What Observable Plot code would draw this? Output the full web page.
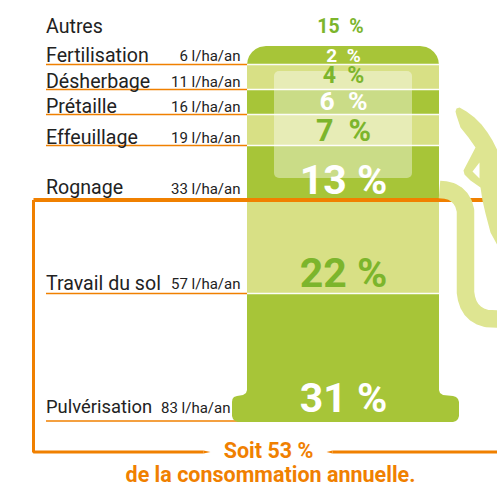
<!DOCTYPE html>
<html><head><meta charset="utf-8">
<script src="https://cdn.jsdelivr.net/npm/d3@7"></script>
<script src="https://cdn.jsdelivr.net/npm/@observablehq/plot@0.6"></script>
<style>html,body{margin:0;padding:0;background:#fff}svg{display:block}</style>
</head><body><div id="c"></div>
<script>
const W = 497, H = 484;
const DARK = "#a7c538", LIGHT = "#d8e085", HOSE = "#dee591", ORANGE = "#f08000", GREEN = "#7cb52c", INK = "#222";

// Chart values
const categories = ["Autres","Fertilisation","Désherbage","Prétaille","Effeuillage","Rognage","Travail du sol","Pulvérisation"];
const litres = ["","6 l/ha/an","11 l/ha/an","16 l/ha/an","19 l/ha/an","33 l/ha/an","57 l/ha/an","83 l/ha/an"];
const percents = ["15\u00a0\u00a0%","2\u00a0\u00a0%","4\u00a0\u00a0%","6\u00a0\u00a0%","7\u00a0\u00a0%","13 %","22 %","31 %"];

// Band edges on the picture's vertical axis
const bandTop = [46,65,90,115,146,199,294];
const bandBottom = [65,90,115,146,199,294,396];
const bandFill = [DARK,LIGHT,DARK,LIGHT,DARK,LIGHT,DARK];
const catY = [26,55,81,106,137,187,283,407];
const catSize = [19.6,19.6,19.6,19.6,19.6,19.6,19.6,18.4];
const amountY = [null,56,82,107,138,189,284,408];
const amountX = [null,240,240,240,240,240,240,230];
const pctY = [26,55,75,101,131,180,273,398];
const pctSize = [19.5,19,23,26.5,30.5,41,41,41];
const pctFill = [GREEN,"#fff",GREEN,"#fff",GREEN,"#fff",GREEN,"#fff"];
const pctX = [340,343,343,343,343,343,343,343];
const ruleY = [64,89,114,145,293];

// Outlines
const capY  = [46,47,49,52,56,60,65];
const capX1 = [266,259.8,255.7,252.1,249.2,247.7,247];
const capX2 = [420,426.2,430.3,433.9,436.8,438.3,439];
const baseY  = [390,393,395,396,397,399,402,416,419,421,422];
const baseX1 = [247,246,243,237,234,232.5,232,232,233,235,238];
const baseX2 = [439,440,443,453,456,458,459,459,458,456,453];
const hoseX = [439,445,451,456,460,463,465,465,465,466,468,471,475,480,486,497];
const hoseY = [189,189.5,191,194,198,203,210,250,292,298,304,309,313,316,318,318.5];
const handleX = [459,456,455,456,460,468,475,463,464,470,480,482,485,490,497,497,492,487,481,474,466,459];
const handleY = [107,108,111,115,127,137,147,170,174,180,187,200,213,232,245,150,140,132,124,117,111,107];
const notchX = [479,472,479], notchY = [162,171,178];
const boxX = [497,33,33,203], boxY = [199.5,199.5,451.5,451.5];
const tailX = [332,497], tailY = [451.5,451.5];

const rows = categories.map((c,i)=>({c,l:litres[i],p:percents[i],cy:catY[i],cs:catSize[i],ay:amountY[i],ax:amountX[i],py:pctY[i],ps:pctSize[i],pf:pctFill[i],px:pctX[i]}));
const bands = bandTop.map((t,i)=>({t,b:bandBottom[i],f:bandFill[i]}));
const pts = (xs,ys)=>xs.map((x,i)=>({x,y:ys[i]}));
const pts2 = (a,b,ys)=>ys.map((y,i)=>({x1:a[i],x2:b[i],y}));

const plot = Plot.plot({
  width:W,height:H,margin:0,
  x:{domain:[0,W],range:[0,W],axis:null},
  y:{domain:[0,H],range:[0,H],axis:null},
  style:{fontFamily:"Roboto",background:"transparent"},
  marks:[
    // orange underlines
    Plot.ruleY(ruleY,{x1:46,x2:250,stroke:ORANGE,strokeWidth:1.3}),
    Plot.ruleY([420.5],{x1:46,x2:240,stroke:ORANGE,strokeWidth:1.3}),
    // pump body
    Plot.rect(bands.slice(1),{x1:247,x2:439,y1:"t",y2:"b",fill:"f"}),
    Plot.areaX(pts2(capX1,capX2,capY),{x1:"x1",x2:"x2",y:"y",fill:DARK}),
    Plot.areaX(pts2(baseX1,baseX2,baseY),{x1:"x1",x2:"x2",y:"y",fill:DARK}),
    Plot.ruleY(ruleY,{x1:247,x2:440,stroke:"#fff",strokeWidth:1.5,strokeOpacity:0.95}),
    // window
    Plot.rect([0],{x1:274,x2:412,y1:71,y2:178,fill:"#fff",fillOpacity:0.4,rx:5}),
    // orange box
    Plot.line(pts(boxX,boxY).slice(0,2),{x:"x",y:"y",stroke:ORANGE,strokeWidth:4,strokeLinecap:"butt"}),
    Plot.line(pts(boxX,boxY).slice(1),{x:"x",y:"y",stroke:ORANGE,strokeWidth:3,strokeLinecap:"butt",strokeLinejoin:"miter"}),
    Plot.line(pts(tailX,tailY),{x:"x",y:"y",stroke:ORANGE,strokeWidth:3,strokeLinecap:"butt"}),
    Plot.line(pts([203,210,203],[450,451.5,453]),{x:"x",y:"y",stroke:"none",fill:ORANGE}),
    Plot.line(pts([332,326,332],[450,451.5,453]),{x:"x",y:"y",stroke:"none",fill:ORANGE}),
    // hose and handle
    Plot.line(pts(hoseX,hoseY),{x:"x",y:"y",stroke:HOSE,strokeWidth:17.5,strokeLinecap:"butt"}),
    Plot.line(pts(handleX,handleY),{x:"x",y:"y",stroke:"none",fill:HOSE}),
    Plot.line(pts(notchX,notchY),{x:"x",y:"y",stroke:"none",fill:"#fff"}),
    // labels
    Plot.text(rows,{x:45.5,y:"cy",text:"c",textAnchor:"start",fill:INK,fontSize:"cs"}),
    Plot.text(rows.slice(1),{x:"ax",y:"ay",text:"l",textAnchor:"end",fill:INK,fontSize:15}),
    Plot.text(rows,{x:"px",y:"py",text:"p",fill:"pf",fontSize:"ps",fontWeight:700}),
    Plot.text(["Soit 53 %"],{x:268,y:451,fill:ORANGE,fontSize:21.5,fontWeight:700}),
    Plot.text(["de la consommation annuelle."],{x:270,y:475,fill:ORANGE,fontSize:21.5,fontWeight:700})
  ]
});
document.getElementById("c").appendChild(plot);
</script></body></html>
